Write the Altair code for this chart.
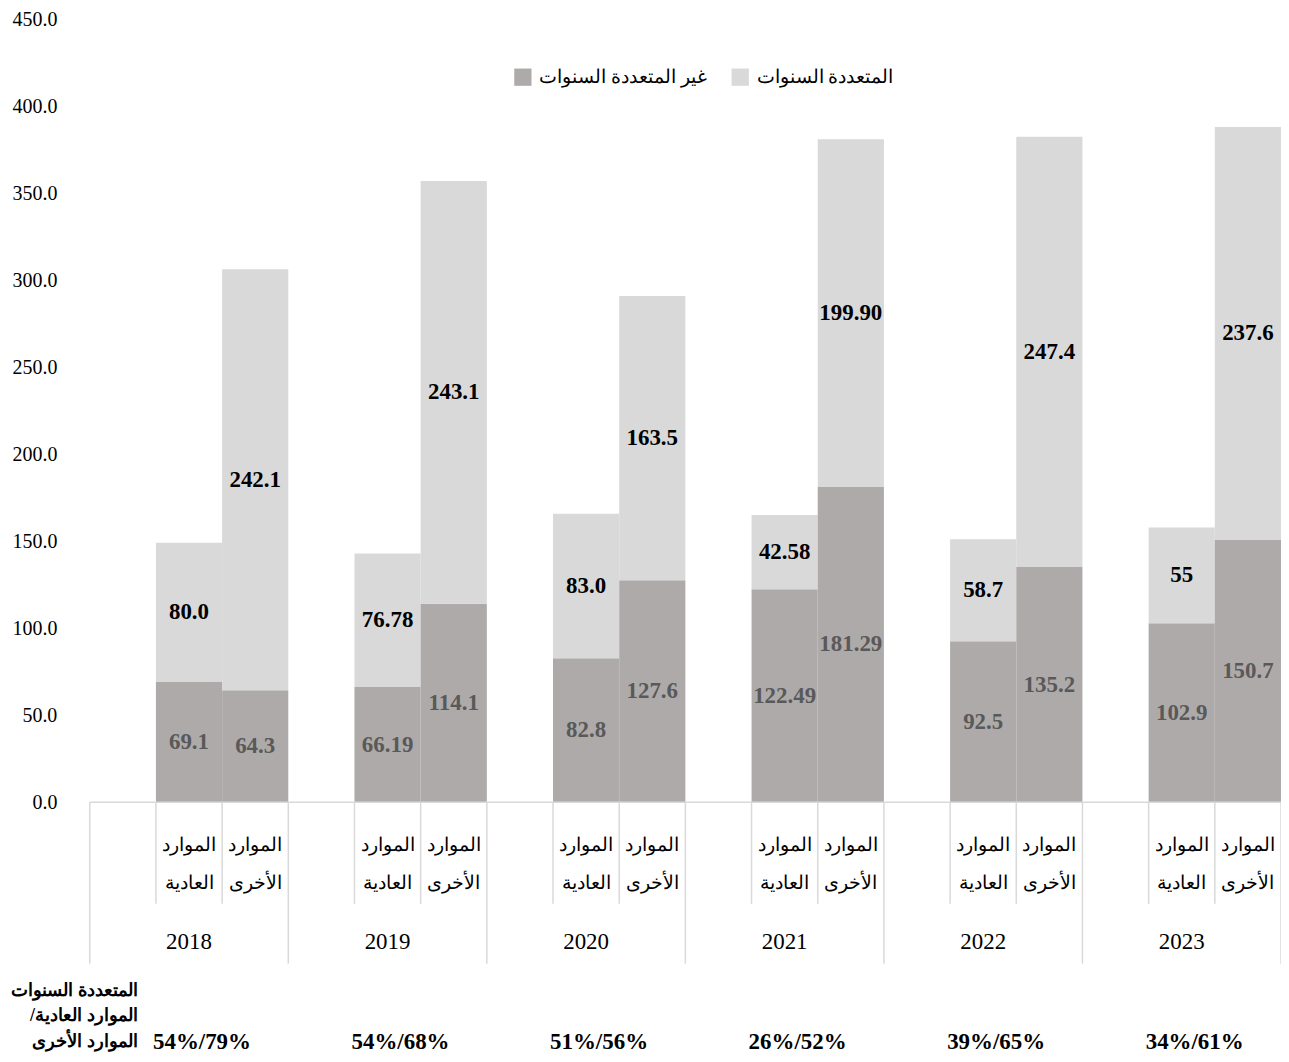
import altair as alt
import pandas as pd

years = ["2018", "2019", "2020", "2021", "2022", "2023"]
series_non = "غير المتعددة السنوات"
series_multi = "المتعددة السنوات"
cat_regular = ["الموارد", "العادية"]
cat_other = ["الموارد", "الأخرى"]

regular_non = ["69.1", "66.19", "82.8", "122.49", "92.5", "102.9"]
regular_multi = ["80.0", "76.78", "83.0", "42.58", "58.7", "55"]
other_non = ["64.3", "114.1", "127.6", "181.29", "135.2", "150.7"]
other_multi = ["242.1", "243.1", "163.5", "199.90", "247.4", "237.6"]

pct_labels = ["54%/79%", "54%/68%", "51%/56%", "26%/52%", "39%/65%", "34%/61%"]
row_title = ["المتعددة السنوات", "/الموارد العادية", "الموارد الأخرى"]
y_ticks = [0, 50, 100, 150, 200, 250, 300, 350, 400, 450]

DARK = "#aeaaaa"
LIGHT = "#d9d9d9"
GRID = "#d9d9d9"
FONT = "Liberation Serif"
W, H = 1195, 785

slots = []
for y in years:
    slots += [y + "a", y + "b", y + "c"]

rows = []
for i, y in enumerate(years):
    for slot, non, multi in [(y + "b", regular_non[i], regular_multi[i]),
                             (y + "c", other_non[i], other_multi[i])]:
        nv, mv = float(non), float(multi)
        rows.append(dict(slot=slot, series=series_non, value=nv, ord=0, label=non,
                         mid=nv / 2, lc="#595959"))
        rows.append(dict(slot=slot, series=series_multi, value=mv, ord=1, label=multi,
                         mid=nv + mv / 2, lc="#000000"))
bars_df = pd.DataFrame(rows)

xscale = alt.Scale(domain=slots, paddingInner=0, paddingOuter=0)
yscale = alt.Scale(domain=[0, 450], nice=False)
yaxis = alt.Axis(values=y_ticks, format=".1f", grid=False, domain=False, ticks=False,
                 labelFont=FONT, labelFontSize=20, labelColor="#000000", labelPadding=33)

bars = alt.Chart(bars_df).mark_bar().encode(
    x=alt.X("slot:N", scale=xscale, axis=None),
    y=alt.Y("value:Q", stack="zero", scale=yscale, axis=yaxis, title=None),
    color=alt.Color("series:N",
                    scale=alt.Scale(domain=[series_non, series_multi], range=[DARK, LIGHT]),
                    legend=alt.Legend(orient="none", legendX=425, legendY=48,
                                      direction="horizontal", title=None,
                                      symbolType="square", symbolSize=300,
                                      symbolStrokeWidth=0, symbolOpacity=1,
                                      labelFont=FONT, labelFontSize=19, labelLimit=500,
                                      labelColor="#000000", columnPadding=24,
                                      labelOffset=7)),
    order=alt.Order("ord:Q"),
)

labels = alt.Chart(bars_df).mark_text(font=FONT, fontSize=23, fontWeight="bold",
                                      baseline="middle").encode(
    x=alt.X("slot:N", scale=xscale, axis=None),
    y=alt.Y("mid:Q", stack=None, scale=yscale, axis=yaxis, title=None),
    text=alt.Text("label:N"),
    color=alt.Color("lc:N", scale=None),
)

axis_line = alt.Chart(pd.DataFrame({"a": [0]})).mark_rule(color=GRID, strokeWidth=1.5).encode(
    x=alt.value(0), x2=alt.value(W), y=alt.value(H)
)

full_df = pd.DataFrame({"slot": [y + "a" for y in years]})
short_df = pd.DataFrame({"slot": [y + s for y in years for s in ("b", "c")]})
end_df = pd.DataFrame({"slot": [years[-1] + "c"]})

full_div = alt.Chart(full_df).mark_rule(color=GRID, strokeWidth=1.5).encode(
    x=alt.X("slot:N", scale=xscale, axis=None, bandPosition=0),
    y=alt.value(H), y2=alt.value(H + 162),
)
short_div = alt.Chart(short_df).mark_rule(color=GRID, strokeWidth=1.5).encode(
    x=alt.X("slot:N", scale=xscale, axis=None, bandPosition=0),
    y=alt.value(H), y2=alt.value(H + 102),
)
end_div = alt.Chart(end_df).mark_rule(color=GRID, strokeWidth=1.5).encode(
    x=alt.X("slot:N", scale=xscale, axis=None, bandPosition=1),
    y=alt.value(H), y2=alt.value(H + 162),
)

cat_rows = []
for y in years:
    cat_rows.append(dict(slot=y + "b", l1=cat_regular[0], l2=cat_regular[1]))
    cat_rows.append(dict(slot=y + "c", l1=cat_other[0], l2=cat_other[1]))
cat_df = pd.DataFrame(cat_rows)

cat1 = alt.Chart(cat_df).mark_text(font=FONT, fontSize=19, color="#000000",
                                   baseline="middle").encode(
    x=alt.X("slot:N", scale=xscale, axis=None), y=alt.value(H + 43), text="l1:N")
cat2 = alt.Chart(cat_df).mark_text(font=FONT, fontSize=19, color="#000000",
                                   baseline="middle").encode(
    x=alt.X("slot:N", scale=xscale, axis=None), y=alt.value(H + 81), text="l2:N")

year_df = pd.DataFrame({"slot": [y + "b" for y in years], "year": years, "pct": pct_labels})
year_txt = alt.Chart(year_df).mark_text(font=FONT, fontSize=23, color="#000000",
                                        baseline="middle").encode(
    x=alt.X("slot:N", scale=xscale, axis=None), y=alt.value(H + 140), text="year:N")
pct_txt = alt.Chart(year_df).mark_text(font=FONT, fontSize=23, fontWeight="bold",
                                       color="#000000", baseline="middle", dx=13).encode(
    x=alt.X("slot:N", scale=xscale, axis=None), y=alt.value(H + 241), text="pct:N")

title_df = pd.DataFrame({"t": row_title, "yy": [H + 189, H + 215, H + 241]})
title_txt = alt.Chart(title_df).mark_text(font=FONT, fontSize=18, fontWeight="bold",
                                          color="#000000", align="right",
                                          baseline="middle").encode(
    x=alt.value(48), y=alt.Y("yy:Q", scale=None), text="t:N")

chart = alt.layer(
    bars, labels, axis_line, full_div, short_div, end_div,
    cat1, cat2, year_txt, pct_txt, title_txt
).properties(
    width=W, height=H,
    background="white",
    padding={"left": 82, "top": 10, "right": 0, "bottom": 250},
    autosize=alt.AutoSizeParams(type="none"),
).configure_view(stroke=None)

chart.save("out.html", embed_options={"renderer": "svg", "actions": False})
